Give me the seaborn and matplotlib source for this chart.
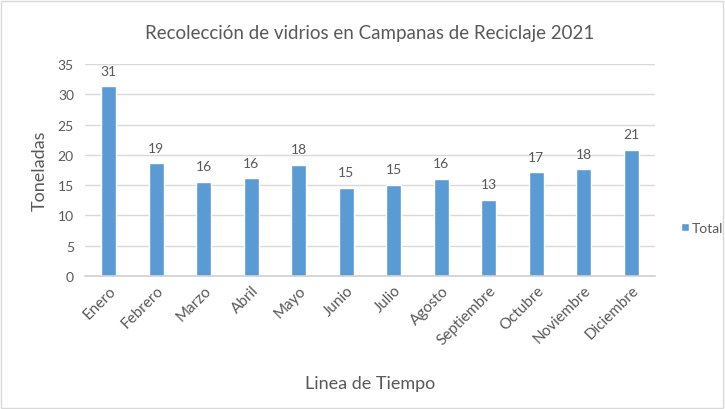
import matplotlib
matplotlib.use('Agg')
import matplotlib.pyplot as plt
import seaborn as sns
import pandas as pd

# Datos (toneladas por mes)
meses = ['Enero', 'Febrero', 'Marzo', 'Abril', 'Mayo', 'Junio', 'Julio',
         'Agosto', 'Septiembre', 'Octubre', 'Noviembre', 'Diciembre']
toneladas = [31.3, 18.6, 15.6, 16.1, 18.3, 14.6, 15.1, 16.0, 12.6, 17.1, 17.6, 20.8]
yticks = [0, 5, 10, 15, 20, 25, 30, 35]

sns.set_style('white')
plt.rcParams['font.family'] = ['Lato', 'DejaVu Sans']
gray = '#595959'
blue = '#5b9bd5'

df = pd.DataFrame({'Mes': meses, 'Toneladas': toneladas})

fig = plt.figure(figsize=(7.25, 4.1), dpi=100)
ax = fig.add_axes([85 / 725, 1 - 277 / 410, 570 / 725, 212 / 410])

sns.barplot(data=df, x='Mes', y='Toneladas', color=blue, width=0.315,
            label='Total', ax=ax, saturation=1)

ax.bar_label(ax.containers[0], labels=[f'{int(v + 0.5)}' for v in toneladas],
             padding=7, color=gray, fontsize=10)

ax.set_ylim(0, 35)
ax.set_yticks(yticks)
ax.set_xlim(-0.5, len(meses) - 0.5)
ax.yaxis.grid(True, color='#d9d9d9', linewidth=1)
ax.set_axisbelow(True)
for side in ['top', 'right', 'left']:
    ax.spines[side].set_visible(False)
ax.spines['bottom'].set_color('#d0d0d0')
ax.spines['bottom'].set_linewidth(1.2)
ax.tick_params(axis='both', length=0, colors=gray, labelsize=10)
ax.tick_params(axis='y', pad=8)
ax.tick_params(axis='x', pad=5)
plt.setp(ax.get_xticklabels(), rotation=45, ha='right', rotation_mode='anchor',
         fontsize=11)

ax.set_ylabel('Toneladas', color=gray, fontsize=13, labelpad=7)
ax.set_xlabel('Linea de Tiempo', color=gray, fontsize=13, labelpad=20)
fig.text(370 / 725, 1 - 33 / 410, 'Recolección de vidrios en Campanas de Reciclaje 2021',
         ha='center', va='center', color=gray, fontsize=13.5)

leg = ax.legend(loc='center left', bbox_to_anchor=(1.035, 0.227), frameon=False,
                fontsize=10, handlelength=0.6, handleheight=0.6, handletextpad=0.2,
                borderaxespad=0)
for t in leg.get_texts():
    t.set_color(gray)

# marco gris del grafico
fig.patches.append(plt.Rectangle((0.002, 0.003), 0.995, 0.993, transform=fig.transFigure,
                                 fill=False, edgecolor='#d9d9d9', linewidth=1))

fig.savefig('out.png', dpi=100)
